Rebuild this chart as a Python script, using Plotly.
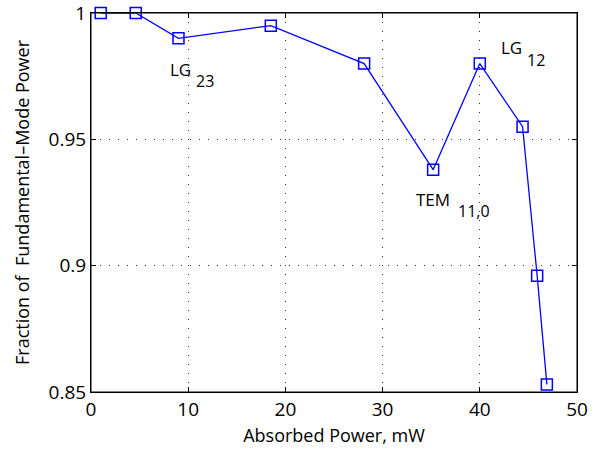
import plotly.graph_objects as go

absorbed_power = [1.0, 4.6, 9.0, 18.5, 28.1, 35.2, 40.0, 44.4, 45.9, 46.9]
fraction = [1.0, 1.0, 0.990, 0.995, 0.980, 0.938, 0.980, 0.955, 0.896, 0.853]

x_ticks = [0, 10, 20, 30, 40, 50]
y_ticks = [0.85, 0.9, 0.95, 1.0]
y_tick_labels = ["0.85", "0.9", "0.95", "1"]

# mode labels: main text, subscript text, and their placement in data units
mode_main = ["LG", "LG", "TEM"]
mode_sub = ["23", "12", "11,0"]
main_x = [7.9, 42.0, 33.2]
main_y = [0.9775, 0.9863, 0.926]
sub_x = [10.6, 44.7, 37.6]
sub_y = [0.9732, 0.9815, 0.9217]

FONT = "Open Sans"

fig = go.Figure()
fig.add_trace(go.Scatter(
    x=absorbed_power, y=fraction, mode="lines+markers",
    line=dict(color="#0000ff", width=1.3),
    marker=dict(symbol="square-open", size=11, color="#0000ff", line=dict(width=1.5)),
    cliponaxis=False, showlegend=False,
))

for i in range(len(mode_main)):
    fig.add_annotation(x=main_x[i], y=main_y[i], xref="x", yref="y", text=mode_main[i],
                       xanchor="left", showarrow=False,
                       font=dict(family=FONT, size=17, color="black"))
    fig.add_annotation(x=sub_x[i], y=sub_y[i], xref="x", yref="y", text=mode_sub[i],
                       xanchor="left", showarrow=False,
                       font=dict(family=FONT, size=16, color="black"))

axis_common = dict(
    showline=True, linecolor="black", linewidth=1, mirror="ticks",
    ticks="inside", ticklen=5, tickcolor="black",
    showgrid=True, gridcolor="#333333", griddash="1px,8px", gridwidth=1,
    zeroline=False, automargin=False, ticklabeloverflow="allow",
    tickfont=dict(family=FONT, size=19, color="black"),
)

fig.update_xaxes(range=[0, 50], tickvals=x_ticks,
                 title=dict(text="Absorbed Power, mW", font=dict(family=FONT, size=18, color="black"), standoff=8),
                 **axis_common)
fig.update_yaxes(range=[0.85, 1.0], tickvals=y_ticks, ticktext=y_tick_labels,
                 title=dict(text="Fraction of  Fundamental–Mode Power", font=dict(family=FONT, size=18, color="black"), standoff=14),
                 **axis_common)

# plot frame (box around the axes)
fig.add_shape(type="rect", xref="paper", yref="paper", x0=0, y0=0, x1=1, y1=1,
              line=dict(color="black", width=1), fillcolor="rgba(0,0,0,0)", layer="below")

fig.update_layout(
    width=596, height=449,
    margin=dict(l=91, r=19, t=13, b=57),
    plot_bgcolor="white", paper_bgcolor="white",
    font=dict(family=FONT, color="black"),
)

fig.write_html("out.html", config={"displayModeBar": False},
               post_script="document.body.style.margin='0';")
